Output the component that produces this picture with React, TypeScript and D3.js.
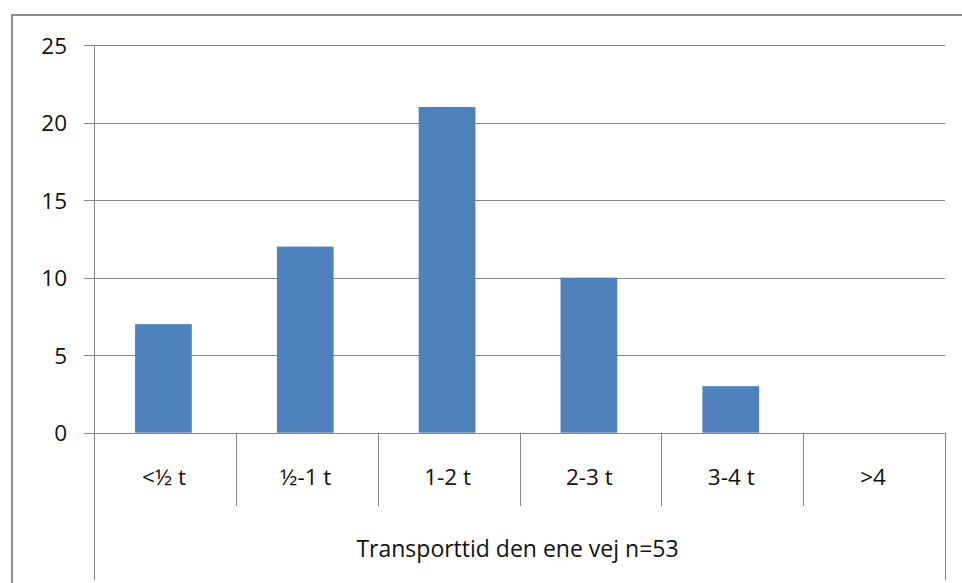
import React from "react";
import * as d3 from "d3";

const categories = ["<½ t", "½-1 t", "1-2 t", "2-3 t", "3-4 t", ">4"];
const counts = [7, 12, 21, 10, 3, 0];
const yTicks = [0, 5, 10, 15, 20, 25];
const axisTitle = "Transporttid den ene vej n=53";

const W = 962;
const H = 583;
const plot = { left: 94, right: 945, top: 45, bottom: 432.7 };
const FONT = "'Open Sans', 'Liberation Sans', sans-serif";
const TEXT = "#111";

export default function App() {
  const x = d3
    .scaleBand<string>()
    .domain(categories)
    .range([plot.left, plot.right])
    .paddingInner(0)
    .paddingOuter(0);
  const y = d3.scaleLinear().domain([0, 25]).range([plot.bottom, plot.top]);
  const barW = x.bandwidth() * 0.4;
  const gridColor = "#878787";

  return (
    <svg
      width={W}
      height={H}
      style={{ position: "absolute", left: 0, top: 0, background: "#fff" }}
    >
      {/* chart frame */}
      <rect x={12} y={15} width={W + 10} height={H + 10} fill="#fff" stroke="#8c8c8c" strokeWidth={2} />

      {/* horizontal gridlines with tick marks */}
      {yTicks.map((t) => (
        <g key={t}>
          <line
            x1={plot.left - 10}
            x2={plot.right}
            y1={Math.round(y(t)) + 0.5}
            y2={Math.round(y(t)) + 0.5}
            stroke={gridColor}
            strokeWidth={1}
          />
          <text
            x={67}
            y={y(t)}
            textAnchor="end"
            dominantBaseline="central"
            fontFamily={FONT}
            fontSize={22.5}
            fill={TEXT}
          >
            {t}
          </text>
        </g>
      ))}

      {/* bars */}
      {categories.map((c, i) => (
        <rect
          key={c}
          x={(x(c) as number) + x.bandwidth() / 2 - barW / 2 - 1.5}
          y={y(counts[i])}
          width={barW}
          height={plot.bottom - y(counts[i])}
          fill="#4F81BD"
        />
      ))}

      {/* value axis line and right edge of category area */}
      <line x1={plot.left + 0.5} x2={plot.left + 0.5} y1={plot.top} y2={580} stroke={gridColor} />
      <line x1={plot.right + 0.5} x2={plot.right + 0.5} y1={plot.bottom} y2={580} stroke={gridColor} />

      {/* category separators */}
      {categories.slice(1).map((c) => (
        <line
          key={c}
          x1={Math.round(x(c) as number) + 0.5}
          x2={Math.round(x(c) as number) + 0.5}
          y1={plot.bottom}
          y2={506}
          stroke={gridColor}
        />
      ))}

      {/* category labels */}
      {categories.map((c) => (
        <text
          key={c}
          x={(x(c) as number) + x.bandwidth() / 2 - 1}
          y={476}
          textAnchor="middle"
          dominantBaseline="central"
          fontFamily={FONT}
          fontSize={22.5}
          fill={TEXT}
        >
          {c}
        </text>
      ))}

      {/* axis title */}
      <text
        x={(plot.left + plot.right) / 2 - 2}
        y={548}
        textAnchor="middle"
        dominantBaseline="central"
        fontFamily={FONT}
        fontSize={23}
        fill={TEXT}
      >
        {axisTitle}
      </text>
    </svg>
  );
}
